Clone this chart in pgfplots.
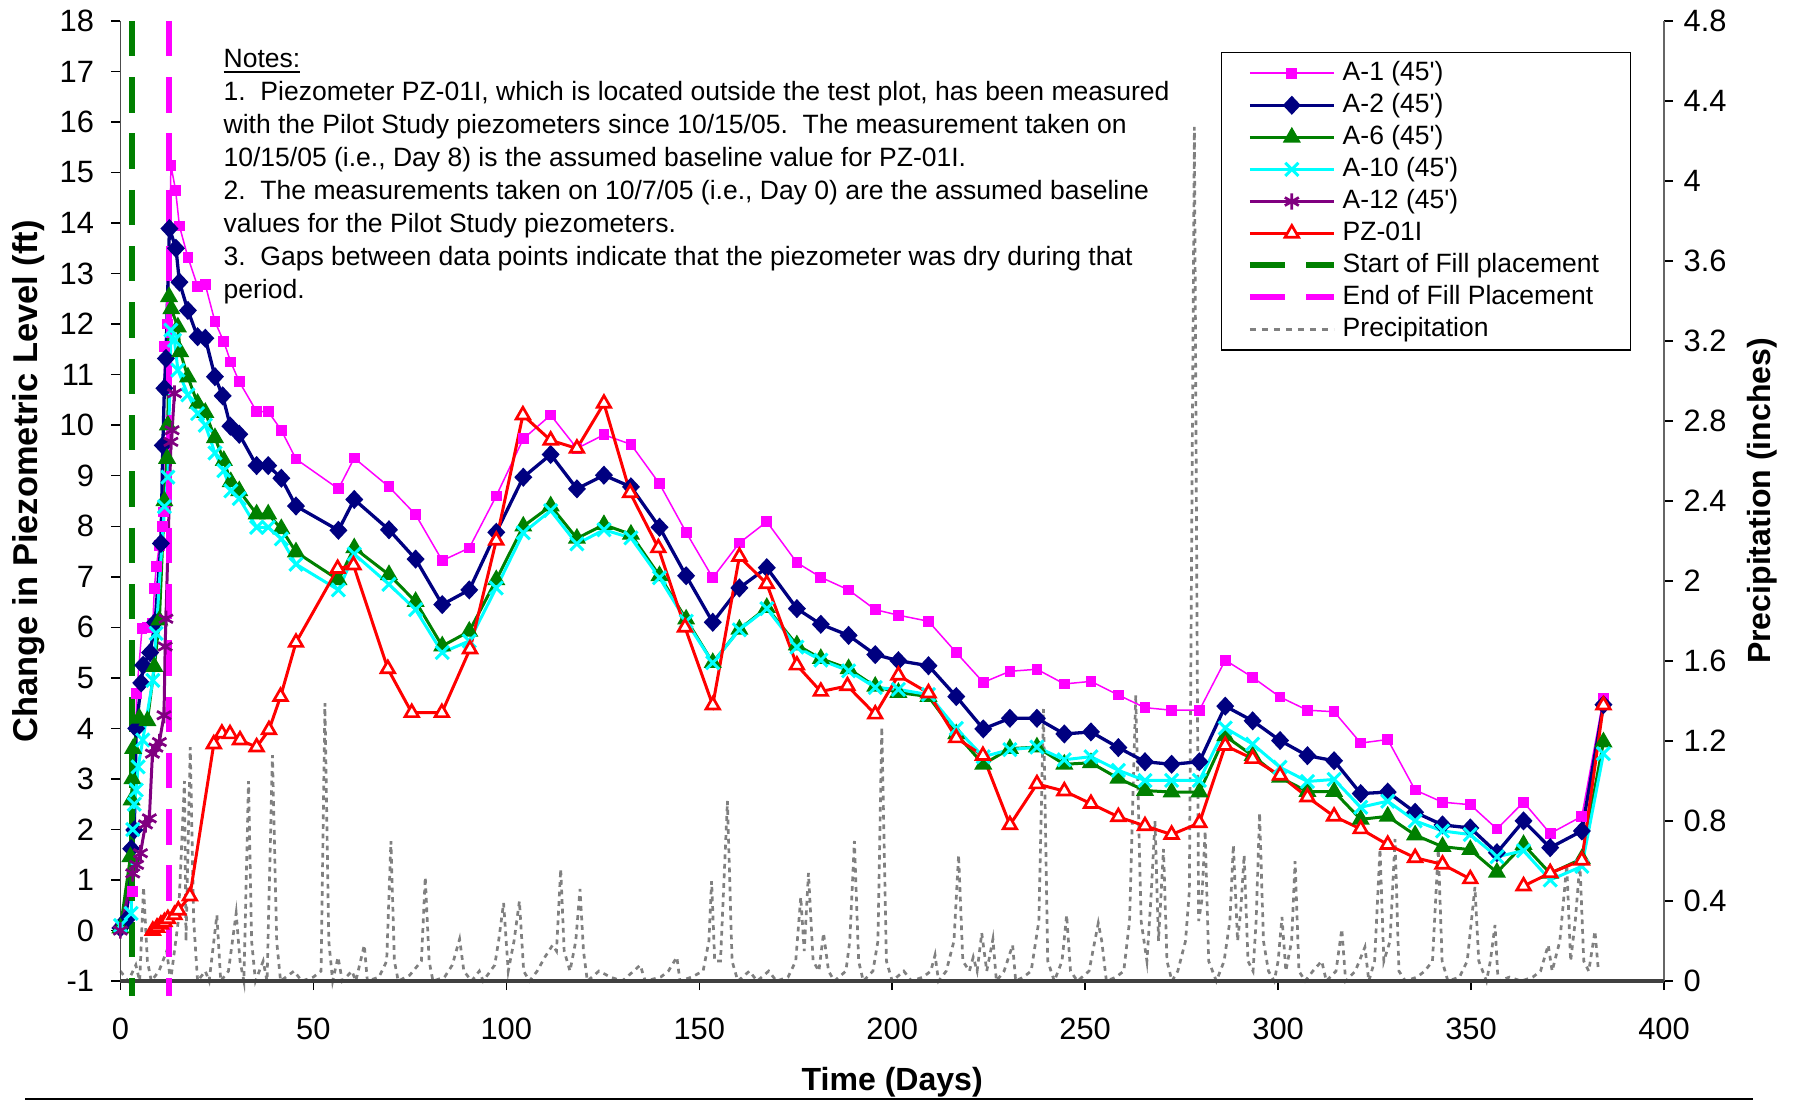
\documentclass[border=0pt]{standalone}
\usepackage{fontspec}
\setmainfont{Liberation Sans}
\usepackage{pgfplots}
\pgfplotsset{compat=1.18}
\definecolor{navy}{RGB}{0,0,128}
\definecolor{dgreen}{RGB}{0,128,0}
\definecolor{purp}{RGB}{128,0,128}
\definecolor{mag}{RGB}{255,0,255}
\definecolor{cyn}{RGB}{0,255,255}
\definecolor{rd}{RGB}{255,0,0}
\definecolor{precip}{RGB}{128,128,128}
\begin{document}
\begin{tikzpicture}
\pgfplotsset{
  common/.style={width=515.4pt,height=320.6pt,scale only axis,xmin=0,xmax=400,
    /pgf/number format/assume math mode=true,
    ticklabel style={font=\fontsize{10.3}{12}\selectfont},
    label style={font=\bfseries\fontsize{10.7}{13}\selectfont,inner sep=0pt},
    tick align=outside, major tick length=3pt,
    every tick/.style={black,line width=0.5pt}},
  legend image code/.code={\draw[mark repeat=2,mark phase=2] plot coordinates {(0pt,0pt) (14pt,0pt) (28pt,0pt)};}
}
% precipitation axis (right)
\begin{axis}[common, axis x line=none, axis y line*=right, ymin=0, ymax=4.8,
  ytick={0,0.4,0.8,1.2,1.6,2,2.4,2.8,3.2,3.6,4,4.4,4.8},
  yticklabels={0,0.4,0.8,1.2,1.6,2,2.4,2.8,3.2,3.6,4,4.4,4.8},
  y axis line style={black!60,line width=0.6pt},
  ylabel={Precipitation (inches)},
  ylabel style={at={(rel axis cs:1,0.5)},anchor=center,yshift=-32.9pt},
  clip=false]
\addplot[precip, line width=0.9pt, dash pattern=on 1.6pt off 1.6pt] coordinates {
(0,0.05)(2,0.0)(4,0.08)(5,0.0)(6,0.47)(7,0.1)(8,0.0)(10,0.05)(12,0.15)(13,0.0)(15,0.3)(16.6,1.0)(17,0.2)(18.1,1.17)(19,0.3)(20,0.0)(22,0.05)(23,0.0)(25,0.33)(26,0.0)(28,0.05)(30,0.34)(31,0.1)(32,0.0)(33.2,1.0)(34,0.2)(35,0.0)(37,0.1)(38,0.0)(39.4,1.13)(40.5,0.2)(41.5,0.0)(45,0.05)(47,0.0)(50,0.02)(52,0.05)(53,1.39)(54,0.2)(55,0.0)(56.4,0.12)(57.5,0.0)(60,0.05)(61,0.0)(63.2,0.18)(64,0.0)(67,0.02)(69,0.1)(70.1,0.7)(71,0.1)(72,0.0)(75,0.03)(78,0.1)(79,0.52)(80,0.1)(81,0.0)(84,0.02)(86,0.08)(87.9,0.21)(89,0.05)(91,0.0)(93,0.05)(94,0.0)(97,0.08)(98,0.2)(99.3,0.39)(100.5,0.05)(102,0.2)(103.4,0.4)(104.5,0.05)(106,0.0)(108,0.05)(110,0.12)(112,0.18)(113,0.15)(114.1,0.56)(115,0.15)(116.5,0.05)(118,0.2)(119.1,0.46)(120,0.15)(121,0.0)(124,0.05)(127,0.02)(130,0.0)(133,0.05)(134.7,0.08)(136,0.0)(140,0.02)(142,0.05)(144.2,0.12)(145,0.0)(148,0.02)(151,0.05)(152.5,0.2)(153.2,0.5)(154,0.1)(155.5,0.1)(157.3,0.9)(158.5,0.1)(160,0.0)(163,0.05)(165,0.0)(168,0.05)(170,0.0)(173,0.02)(175,0.1)(176.3,0.42)(177.2,0.15)(178.3,0.54)(179.5,0.1)(181,0.05)(182.2,0.24)(183.5,0.05)(185,0.0)(188,0.05)(189,0.2)(190.2,0.7)(191.3,0.1)(192.5,0.0)(195,0.05)(196.3,0.2)(197.3,1.27)(198.5,0.1)(200,0.0)(203,0.05)(205,0.0)(208,0.02)(210,0.05)(211.1,0.13)(212,0.0)(214,0.05)(216,0.2)(217.2,0.63)(218.3,0.1)(220,0.05)(221,0.12)(222,0.05)(223.2,0.24)(224.5,0.05)(226.1,0.21)(227,0.0)(229,0.05)(231.2,0.18)(232,0.0)(234,0.02)(236,0.05)(238,0.3)(239.2,1.36)(240.3,0.1)(242,0.0)(244,0.1)(245.2,0.33)(246.2,0.05)(248,0.0)(251,0.05)(252.5,0.2)(253.4,0.29)(254.3,0.2)(255.5,0.0)(258,0.02)(260,0.05)(261.5,0.3)(263.1,1.43)(264.5,0.3)(266,0.1)(267,0.4)(268.1,0.8)(269,0.2)(270.3,0.66)(271.2,0.1)(272.5,0.0)(274,0.05)(276,0.2)(277,0.45)(278.3,4.27)(279.4,0.3)(280.2,0.4)(281.1,0.75)(282,0.1)(284,0.0)(286,0.1)(287.5,0.3)(288.4,0.68)(289.5,0.2)(290.3,0.35)(291.2,0.63)(292.2,0.1)(293.5,0.05)(294.3,0.3)(295.2,0.84)(296.2,0.2)(297.5,0.05)(299,0.0)(300,0.1)(301,0.32)(302,0.05)(303.5,0.2)(304.4,0.6)(305.4,0.05)(307,0.0)(309,0.05)(311.3,0.1)(312.5,0.0)(315,0.05)(316.5,0.26)(317.5,0.0)(320,0.05)(322.5,0.17)(323.5,0.0)(325,0.1)(326.4,0.66)(327.4,0.1)(329,0.2)(330.3,0.71)(331.3,0.05)(333,0.0)(336,0.02)(338,0.05)(340,0.1)(341.5,0.66)(342.5,0.1)(344,0.0)(347,0.02)(349,0.1)(351,0.47)(352,0.1)(354,0.0)(355,0.1)(356.2,0.28)(357,0.0)(360,0.02)(363,0.0)(366,0.02)(368,0.05)(370,0.18)(371,0.05)(373,0.2)(374.8,0.58)(375.8,0.1)(377,0.3)(378.2,0.59)(379.2,0.1)(380.5,0.05)(382.1,0.25)(383,0.05)
};
\end{axis}
% main axis (left)
\begin{axis}[common, axis x line*=bottom, axis y line*=left, ymin=-1, ymax=18,
  ytick={-1,0,...,18}, xtick={0,50,...,400},
  xticklabel style={yshift=-5.7pt},
  yticklabel style={xshift=-2.3pt},
  x axis line style={black!75,line width=1.2pt},
  y axis line style={black!70,line width=0.5pt},
  xlabel={Time (Days)}, ylabel={Change in Piezometric Level (ft)},
  xlabel style={at={(rel axis cs:0.5,0)},anchor=center,yshift=-33.7pt},
  ylabel style={at={(rel axis cs:0,0.5)},anchor=center,yshift=30.6pt,xshift=6.5pt,font=\bfseries\fontsize{11.5}{13}\selectfont},
  clip=false, unbounded coords=jump,
  legend cell align=left,
  legend style={at={(0.7128,0.968)},anchor=north west,draw=black,line width=0.5pt,
    font=\fontsize{8.85}{10.8}\selectfont, row sep=-1.2pt, inner xsep=8.5pt, inner ysep=1pt}]
\coordinate (bl) at (rel axis cs:0,0);
\coordinate (br) at (rel axis cs:1,0);
\coordinate (tr) at (rel axis cs:1,1);
\addplot[mag, line width=0.5pt, mark=square*, mark size=1.55pt, mark options={solid}] coordinates {
(0,0.05)(3.2,0.77)(4.2,4.69)(5.6,5.97)(7,6.0)(8.4,6.07)(8.8,6.77)(9.3,7.2)(10.1,7.62)(11,8.0)(11.2,8.28)(11.4,11.55)(12.3,12.0)(13.1,15.14)(14.3,14.65)(15.3,13.94)(17.5,13.32)(20,12.75)(22,12.78)(24.5,12.05)(26.8,11.65)(28.6,11.25)(30.8,10.86)(35.3,10.27)(38.3,10.27)(41.7,9.9)(45.5,9.33)(56.5,8.74)(60.6,9.35)(69.6,8.78)(76.5,8.23)(83.4,7.32)(90.4,7.57)(97.4,8.6)(104.4,9.73)(111.5,10.2)(118.3,9.54)(125.3,9.81)(132.3,9.62)(139.7,8.84)(146.6,7.88)(153.5,6.98)(160.4,7.67)(167.5,8.09)(175.3,7.28)(181.5,6.99)(188.7,6.74)(195.6,6.35)(201.6,6.24)(209.4,6.12)(216.6,5.5)(223.6,4.91)(230.5,5.13)(237.5,5.17)(244.6,4.88)(251.5,4.93)(258.6,4.66)(265.5,4.41)(272.4,4.36)(279.6,4.36)(286.3,5.35)(293.4,5.01)(300.5,4.62)(307.6,4.36)(314.5,4.33)(321.4,3.71)(328.4,3.78)(335.5,2.78)(342.6,2.54)(349.8,2.49)(356.7,2.01)(363.6,2.54)(370.5,1.92)(378.7,2.26)(384.3,4.6)
};
\addlegendentry{A-1 (45\textquotesingle)}
\addplot[navy, line width=1.1pt, mark=diamond*, mark size=2.4pt, mark options={solid,xscale=1.25}] coordinates {
(0,0.05)(1.5,0.21)(2.8,1.62)(3.6,1.99)(4.1,4.0)(5.4,4.9)(5.9,5.25)(7.7,5.5)(9,6.1)(10.5,7.66)(11,9.6)(11.4,10.73)(11.8,11.32)(12.7,13.89)(14.4,13.5)(15.3,12.83)(17.5,12.27)(20,11.75)(22,11.72)(24.5,10.96)(26.5,10.58)(28.5,9.98)(30.8,9.82)(35.3,9.2)(38.3,9.2)(41.7,8.95)(45.5,8.4)(56.5,7.92)(60.6,8.53)(69.6,7.93)(76.5,7.35)(83.4,6.45)(90.4,6.74)(97.4,7.88)(104.4,8.97)(111.5,9.42)(118.3,8.74)(125.3,9.01)(132.3,8.78)(139.7,7.98)(146.6,7.02)(153.5,6.1)(160.4,6.78)(167.5,7.18)(175.3,6.37)(181.5,6.06)(188.7,5.84)(195.6,5.46)(201.6,5.34)(209.4,5.24)(216.6,4.63)(223.6,3.99)(230.5,4.2)(237.5,4.2)(244.6,3.89)(251.5,3.93)(258.6,3.62)(265.5,3.34)(272.4,3.29)(279.6,3.34)(286.3,4.44)(293.4,4.15)(300.5,3.76)(307.6,3.46)(314.5,3.36)(321.4,2.71)(328.4,2.74)(335.5,2.34)(342.6,2.09)(349.8,2.03)(356.7,1.54)(363.6,2.17)(370.5,1.64)(378.7,1.97)(384.3,4.47)
};
\addlegendentry{A-2 (45\textquotesingle)}
\addplot[dgreen, line width=1pt, mark=triangle*, mark size=2.5pt, mark options={solid}] coordinates {
(0,0.05)(2.6,1.46)(2.9,2.58)(3.1,3.0)(3.3,3.6)(4.9,4.2)(7,4.15)(8.8,5.22)(10.1,6.14)(11.4,8.5)(12.1,9.34)(12.3,10.0)(12.6,12.54)(13.2,12.3)(14.9,11.94)(15.5,11.45)(17.5,10.95)(20,10.43)(22,10.25)(24.5,9.75)(26.8,9.3)(28.6,8.88)(30.8,8.7)(35.3,8.24)(38.3,8.24)(41.7,7.95)(45.5,7.49)(56.5,6.94)(60.6,7.57)(69.6,7.04)(76.5,6.51)(83.4,5.63)(90.4,5.92)(97.4,6.94)(104.4,8.0)(111.5,8.4)(118.3,7.76)(125.3,8.03)(132.3,7.84)(139.7,7.02)(146.6,6.16)(153.5,5.3)(160.4,5.96)(167.5,6.39)(175.3,5.65)(181.5,5.38)(188.7,5.18)(195.6,4.83)(201.6,4.71)(209.4,4.63)(216.6,3.89)(223.6,3.29)(230.5,3.6)(237.5,3.63)(244.6,3.29)(251.5,3.32)(258.6,3.01)(265.5,2.77)(272.4,2.74)(279.6,2.74)(286.3,3.85)(293.4,3.46)(300.5,3.03)(307.6,2.75)(314.5,2.75)(321.4,2.2)(328.4,2.26)(335.5,1.89)(342.6,1.66)(349.8,1.6)(356.7,1.15)(363.6,1.7)(370.5,1.13)(378.7,1.42)(384.3,3.73)
};
\addlegendentry{A-6 (45\textquotesingle)}
\addplot[cyn, line width=1pt, mark=x, mark size=3.1pt, mark options={solid,line width=1pt}] coordinates {
(0,0.1)(2.8,0.34)(3.2,2.0)(3.6,2.5)(4.1,2.78)(4.6,3.24)(5.8,3.77)(8.4,4.95)(9.25,5.88)(11.4,8.39)(12.3,8.97)(13.1,11.88)(14,11.68)(14.9,11.09)(17.5,10.6)(20,10.23)(22,10.0)(24.5,9.45)(26.8,9.1)(28.6,8.7)(30.8,8.55)(35.3,7.98)(38.3,7.98)(41.7,7.75)(45.5,7.25)(56.5,6.74)(60.6,7.45)(69.6,6.85)(76.5,6.35)(83.4,5.5)(90.4,5.73)(97.4,6.78)(104.4,7.87)(111.5,8.31)(118.3,7.65)(125.3,7.93)(132.3,7.77)(139.7,6.98)(146.6,6.12)(153.5,5.3)(160.4,5.95)(167.5,6.37)(175.3,5.61)(181.5,5.35)(188.7,5.14)(195.6,4.81)(201.6,4.77)(209.4,4.67)(216.6,4.0)(223.6,3.44)(230.5,3.58)(237.5,3.63)(244.6,3.38)(251.5,3.44)(258.6,3.17)(265.5,2.97)(272.4,2.97)(279.6,2.97)(286.3,4.01)(293.4,3.69)(300.5,3.23)(307.6,2.95)(314.5,2.99)(321.4,2.44)(328.4,2.56)(335.5,2.17)(342.6,1.97)(349.8,1.9)(356.7,1.46)(363.6,1.58)(370.5,1.0)(378.7,1.27)(384.3,3.5)
};
\addlegendentry{A-10 (45\textquotesingle)}
\addplot[purp, line width=1pt, mark=asterisk, mark size=2.7pt, mark options={solid,line width=0.9pt}] coordinates {
(0,0.0)(3.2,1.13)(4.2,1.3)(5.2,1.53)(6.5,2.1)(7.5,2.22)(8.3,3.5)(9.2,3.62)(10.1,3.73)(11.3,4.26)(11.6,5.62)(11.8,6.17)(13.1,9.67)(13.4,9.9)(14,10.63)
};
\addlegendentry{A-12 (45\textquotesingle)}
\addplot[rd, line width=1pt, mark=triangle*, mark size=2.6pt, mark options={solid,fill=white,line width=0.9pt}] coordinates {
(8.4,0.0)(9.5,0.06)(10.5,0.12)(11.4,0.17)(12.3,0.23)(14,0.31)(15,0.4)(18,0.68)(24.2,3.69)(26.3,3.9)(28.4,3.89)(31,3.77)(35.3,3.63)(38.5,3.97)(41.5,4.63)(45.5,5.7)(56.3,7.16)(60.4,7.23)(69.3,5.18)(75.5,4.31)(83.3,4.31)(90.6,5.57)(97.4,7.72)(104.3,10.2)(111.5,9.7)(118.3,9.54)(125.3,10.43)(132.1,8.66)(139.4,7.57)(146.3,6.0)(153.5,4.46)(160.4,7.4)(167.5,6.86)(175.3,5.25)(181.5,4.73)(188.4,4.84)(195.6,4.28)(201.6,5.05)(209.4,4.7)(216.6,3.81)(223.5,3.46)(230.5,2.09)(237.5,2.9)(244.6,2.76)(251.5,2.51)(258.6,2.25)(265.5,2.07)(272.4,1.9)(279.6,2.13)(286.3,3.66)(293.4,3.4)(300.5,3.07)(307.6,2.64)(314.5,2.26)(321.4,2.01)(328.4,1.7)(335.5,1.44)(342.6,1.31)(349.8,1.02)(356.7,nan)(363.6,0.88)(370.5,1.14)(378.7,1.39)(384.3,4.46)
};
\addlegendentry{PZ-01I}
\addplot[dgreen, line width=2pt, dash pattern=on 11.8pt off 7pt] coordinates {(3,18) (3,-1.3)};
\addlegendentry{Start of Fill placement}
\addplot[mag, line width=2pt, dash pattern=on 11.8pt off 7pt] coordinates {(12.5,18) (12.5,-1.3)};
\addlegendentry{End of Fill Placement}
\addlegendimage{precip, line width=0.9pt, dash pattern=on 2pt off 2pt}
\addlegendentry{Precipitation}
\node[anchor=north west, align=left, inner sep=0pt, font=\fontsize{8.85}{11}\selectfont] at (axis cs:26.6,17.45) {\underline{Notes:}\\
1.\ \ Piezometer PZ-01I, which is located outside the test plot, has been measured\\
with the Pilot Study piezometers since 10/15/05.\ \ The measurement taken on\\
10/15/05 (i.e., Day 8) is the assumed baseline value for PZ-01I.\\
2.\ \ The measurements taken on 10/7/05 (i.e., Day 0) are the assumed baseline\\
values for the Pilot Study piezometers.\\
3.\ \ Gaps between data points indicate that the piezometer was dry during that\\
period.};
\end{axis}
\draw[line width=0.7pt] ([shift={(-31.8pt,-39.5pt)}]bl) -- ([shift={(29.7pt,-39.5pt)}]br);
\path ([shift={(-40.2pt,-40.1pt)}]bl) rectangle ([shift={(44.4pt,6.9pt)}]tr);
\end{tikzpicture}
\end{document}
